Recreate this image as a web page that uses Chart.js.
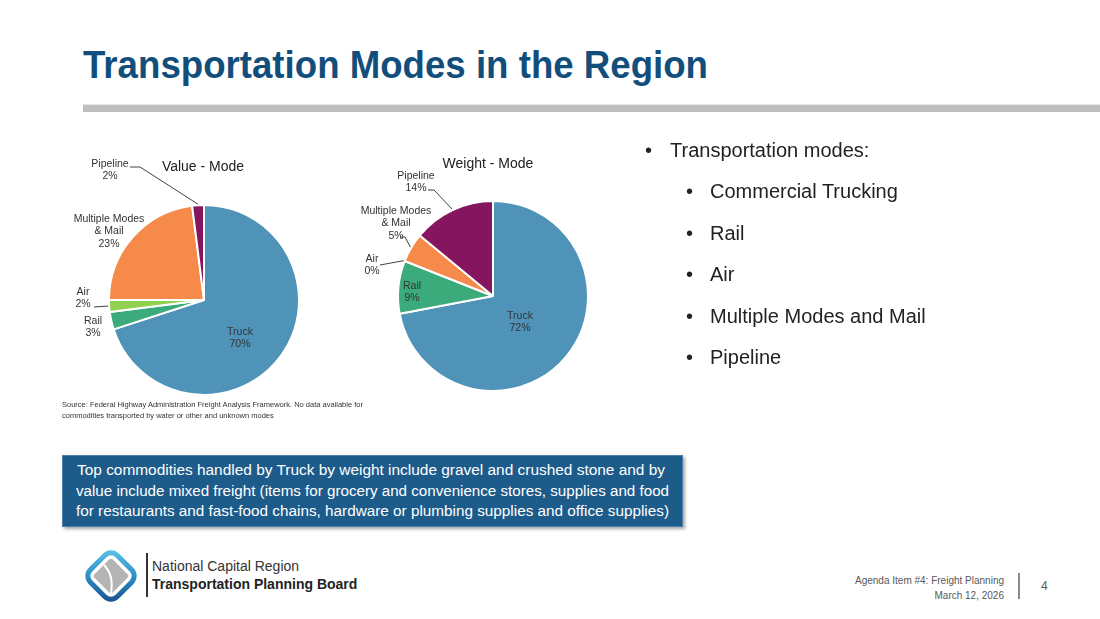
<!DOCTYPE html>
<html>
<head>
<meta charset="utf-8">
<script src="https://cdn.jsdelivr.net/npm/chart.js@4"></script>
<style>
  body { margin: 0; background: #fff; }
  #slide { position: relative; width: 1100px; height: 619px; overflow: hidden; background: #fff; font-family: "Liberation Sans", Arial, sans-serif; }
  .abs { position: absolute; white-space: nowrap; }
  .fit { display: inline-block; transform-origin: 0 0; }
  #title { left: 83px; top: 46px; font: bold 38px/38px "Liberation Sans", Arial, sans-serif; color: #124e7c; }
  #rule { left: 83px; top: 104px; width: 1017px; height: 7px; background: #bfbfbf; border-top: 1px solid #e6e6e6; }
  .pieTitle { font-size: 14px; line-height: 16px; color: #222; transform: translateX(-50%); }
  #source { left: 62px; top: 400px; font-size: 7.5px; line-height: 10.5px; color: #333; }
  #bullets { left: 0; top: 130px; font-size: 20px; line-height: 41.4px; color: #222; }
  #bullets div { position: relative; }
  #bullets .b1 { padding-left: 670px; }
  #bullets .b2 { padding-left: 710px; }
  #bullets .dot { position: absolute; font-size: 20px; }
  #bullets .b1 .dot { left: 645px; }
  #bullets .b2 .dot { left: 686px; }
  #box { left: 62px; top: 455px; width: 619px; height: 66px; background: #1d5b8b; border: 1px solid #4f7fa8;
         box-shadow: 2px 2px 3px rgba(0,0,0,0.35); color: #fff;
         font: 15.5px/20.5px "Liberation Sans", Arial, sans-serif; padding-top: 4px; box-sizing: content-box; }
  #box .row { position: relative; height: 20.5px; }
  #box .fit { position: absolute; left: 14px; }
  #orgLine { left: 146px; top: 553px; width: 1.5px; height: 44px; background: #333; }
  #org1 { left: 152px; top: 558px; font-size: 14px; line-height: 16px; color: #333; }
  #org2 { left: 152px; top: 576px; font-size: 14px; line-height: 16px; font-weight: bold; color: #222; }
  #foot { right: 96px; top: 573px; font-size: 10px; line-height: 15px; color: #595959; text-align: right; }
  #footLine { left: 1018px; top: 573px; width: 1.5px; height: 26px; background: #8c8c8c; }
  #pageNo { left: 1041px; top: 579px; font-size: 12px; line-height: 14px; color: #595959; }
</style>
</head>
<body>
<div id="slide">
  <div id="title" class="abs"><span class="fit" data-w="625">Transportation Modes in the Region</span></div>
  <div id="rule" class="abs"></div>

  <canvas id="valueChart" class="abs" width="300" height="270" style="left:40px;top:140px;"></canvas>
  <canvas id="weightChart" class="abs" width="280" height="270" style="left:340px;top:140px;"></canvas>
  <div class="abs pieTitle" style="left:203px;top:158px;">Value - Mode</div>
  <div class="abs pieTitle" style="left:488px;top:155px;">Weight - Mode</div>

  <div id="source" class="abs">Source: Federal Highway Administration Freight Analysis Framework. No data available for<br>commodities transported by water or other and unknown modes</div>

  <div id="bullets" class="abs">
    <div class="b1"><span class="dot">•</span>Transportation modes:</div>
    <div class="b2"><span class="dot">•</span>Commercial Trucking</div>
    <div class="b2"><span class="dot">•</span>Rail</div>
    <div class="b2"><span class="dot">•</span>Air</div>
    <div class="b2"><span class="dot">•</span>Multiple Modes and Mail</div>
    <div class="b2"><span class="dot">•</span>Pipeline</div>
  </div>

  <div id="box" class="abs">
    <div class="row"><span class="fit" data-w="588" data-x="14">Top commodities handled by Truck by weight include gravel and crushed stone and by</span></div>
    <div class="row"><span class="fit" data-w="593" data-x="13">value include mixed freight (items for grocery and convenience stores, supplies and food</span></div>
    <div class="row"><span class="fit" data-w="593" data-x="13">for restaurants and fast-food chains, hardware or plumbing supplies and office supplies)</span></div>
  </div>

  <svg class="abs" style="left:80px;top:545px;" width="62" height="62" viewBox="0 0 62 62">
    <defs>
      <linearGradient id="ring" x1="0" y1="0" x2="1" y2="1">
        <stop offset="0" stop-color="#5cc3ea"/>
        <stop offset="0.5" stop-color="#2f8fc8"/>
        <stop offset="1" stop-color="#1a4f8c"/>
      </linearGradient>
    </defs>
    <g transform="rotate(45 31 31)">
      <rect x="12" y="12" width="38" height="38" rx="9" fill="none" stroke="url(#ring)" stroke-width="5"/>
      <rect x="18" y="18" width="26" height="26" rx="3" fill="#b4b4b4"/>
    </g>
    <path d="M24 20 Q34 30 31 48" fill="none" stroke="#fff" stroke-width="2"/>
  </svg>
  <div id="orgLine" class="abs"></div>
  <div id="org1" class="abs">National Capital Region</div>
  <div id="org2" class="abs">Transportation Planning Board</div>

  <div id="foot" class="abs">Agenda Item #4: Freight Planning<br>March 12, 2026</div>
  <div id="footLine" class="abs"></div>
  <div id="pageNo" class="abs">4</div>
</div>

<script>
const categories = ['Truck', 'Rail', 'Air', 'Multiple Modes & Mail', 'Pipeline'];
const labelLines = [['Truck'], ['Rail'], ['Air'], ['Multiple Modes', '& Mail'], ['Pipeline']];
const valueShares = [70, 3, 2, 23, 2];
const weightShares = [72, 9, 0, 5, 14];
const sliceColors = ['#4f93b8', '#3bab7c', '#92d050', '#f68a4a', '#85155f'];

// label spots, offsets from the pie centre; leader = [startX, startY, flat run]
const valuePlaces = [
    { dx: 36, dy: 32 },
    { dx: -111, dy: 21 },
    { dx: -121, dy: -8, leader: [-110, 7, 0] },
    { dx: -95, dy: -81 },
    { dx: -94, dy: -136, leader: [-74, -133, 10] },
];
const weightPlaces = [
    { dx: 27, dy: 20 },
    { dx: -81, dy: -10 },
    { dx: -121, dy: -37, leader: [-113, -31, 0] },
    { dx: -97, dy: -85, leader: [-93, -59, 5] },
    { dx: -77, dy: -120, leader: [-65, -106, 6] },
];

// squeeze the condensed-looking texts to the widths seen on the slide
document.querySelectorAll('.fit').forEach((el) => {
    const natural = el.getBoundingClientRect().width;
    const target = parseFloat(el.dataset.w);
    el.style.transform = 'scaleX(' + (target / natural) + ')';
    if (el.dataset.x) {
        el.style.left = el.dataset.x + 'px';
    }
});

const pieLabels = {
    id: 'pieLabels',
    afterDatasetsDraw(chart, args, opts) {
        const ctx = chart.ctx;
        const meta = chart.getDatasetMeta(0);
        const values = chart.data.datasets[0].data;
        meta.data.forEach((arc, i) => {
            const place = opts.places[i];
            const { x, y, startAngle, endAngle, outerRadius } = arc.getProps(['x', 'y', 'startAngle', 'endAngle', 'outerRadius'], true);
            const lines = labelLines[i].concat(values[i] + '%');
            ctx.save();
            ctx.font = '10.5px "Liberation Sans", Arial, sans-serif';
            ctx.fillStyle = '#333';
            ctx.textAlign = 'center';
            ctx.textBaseline = 'middle';
            lines.forEach((t, k) => ctx.fillText(t, x + place.dx, y + place.dy + k * 12.5));
            if (place.leader) {
                const mid = (startAngle + endAngle) / 2;
                const ex = x + Math.cos(mid) * (outerRadius + 1);
                const ey = y + Math.sin(mid) * (outerRadius + 1);
                const sx = x + place.leader[0];
                const sy = y + place.leader[1];
                ctx.strokeStyle = '#404040';
                ctx.lineWidth = 1;
                ctx.beginPath();
                ctx.moveTo(sx, sy);
                ctx.lineTo(sx + place.leader[2], sy);
                ctx.lineTo(ex, ey);
                ctx.stroke();
            }
            ctx.restore();
        });
    }
};

function makePie(id, shares, places, padding) {
    const context = document.getElementById(id);
    return new Chart(context, {
        type: 'pie',
        data: {
            labels: categories,
            datasets: [{
                data: shares,
                backgroundColor: sliceColors,
                borderColor: '#ffffff',
                borderWidth: 2,
            }],
        },
        options: {
            responsive: false,
            animation: false,
            radius: 95,
            layout: { padding: padding },
            plugins: {
                legend: { display: false },
                tooltip: { enabled: false },
                pieLabels: { places: places },
            },
        },
        plugins: [pieLabels],
    });
}

makePie('valueChart', valueShares, valuePlaces, { left: 64, right: 36, top: 60, bottom: 10 });
makePie('weightChart', weightShares, weightPlaces, { left: 53, right: 27, top: 56, bottom: 14 });
</script>
</body>
</html>
